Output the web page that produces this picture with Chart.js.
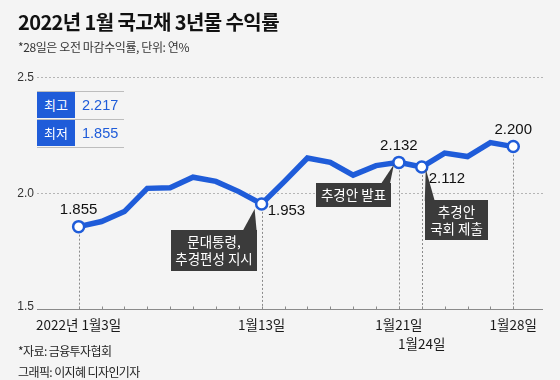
<!DOCTYPE html>
<html><head><meta charset="utf-8">
<script src="https://cdn.jsdelivr.net/npm/chart.js@4"></script>
<style>
html,body{margin:0;padding:0;background:#f4f4f4;}
#wrap{position:relative;width:560px;height:380px;overflow:hidden;background:#f4f4f4;font-family:"Noto Sans CJK KR","Noto Sans",sans-serif;}
canvas{position:absolute;left:0;top:0;}
.t{position:absolute;white-space:nowrap;}
.cell{position:absolute;height:26px;line-height:26px;font-size:13px;}
</style></head><body>
<div id="wrap">
<canvas id="c" width="560" height="380"></canvas>
<div class="t" style="left:18px;top:10px;font-size:20px;line-height:24px;font-weight:bold;color:#111;letter-spacing:-0.6px;">2022년 1월 국고채 3년물 수익률</div>
<div class="t" style="left:18px;top:38px;font-size:12px;line-height:18px;color:#333;letter-spacing:-0.4px;">*28일은 오전 마감수익률, 단위: 연%</div>
<div class="t" style="left:18px;top:342px;font-size:12px;line-height:18px;color:#222;letter-spacing:-0.6px;">*자료: 금융투자협회</div>
<div class="t" style="left:18px;top:363px;font-size:12px;line-height:18px;color:#222;letter-spacing:-0.6px;">그래픽: 이지혜 디자인기자</div>
<div id="tbl"></div>
</div>
<script>
// ---- data ----
const dates = ['1/3','1/4','1/5','1/6','1/7','1/10','1/11','1/12','1/13','1/14','1/17','1/18','1/19','1/20','1/21','1/24','1/25','1/26','1/27','1/28'];
const yields = [1.855,1.877,1.920,2.020,2.023,2.068,2.050,2.006,1.953,2.050,2.151,2.132,2.077,2.118,2.132,2.112,2.172,2.157,2.217,2.200];
const yTicks = [1.5, 2.0, 2.5];
const keyIdx = [0, 8, 14, 15, 19];
const xLabels = [
  {i:0, text:'2022년 1월3일', row:0},
  {i:8, text:'1월13일', row:0},
  {i:14, text:'1월21일', row:0},
  {i:15, text:'1월24일', row:1},
  {i:19, text:'1월28일', row:0}
];
const valueLabels = [
  {i:0, pos:'above'},
  {i:8, pos:'right'},
  {i:14, pos:'above'},
  {i:15, pos:'belowright'},
  {i:19, pos:'above'}
];
const notes = [
  {i:8, lines:['문대통령,','추경편성 지시']},
  {i:14, lines:['추경안 발표']},
  {i:15, lines:['추경안','국회 제출']}
];
const statRows = [['최고', '2.217'], ['최저', '1.855']];

const BLUE = '#1f5cd9';

// table
const tbl = document.getElementById('tbl');
statRows.forEach((r, k) => {
  const top = 92 + k * 28;
  tbl.insertAdjacentHTML('beforeend',
    `<div class="cell" style="left:37px;top:${top}px;width:38px;background:${BLUE};color:#fff;text-align:center;">${r[0]}</div>` +
    `<div class="cell" style="left:82px;top:${top}px;color:${BLUE};font-family:'Liberation Sans',Arial,sans-serif;font-size:14.5px;">${r[1]}</div>`);
});
[91, 119, 147].forEach(y => {
  tbl.insertAdjacentHTML('beforeend', `<div style="position:absolute;left:37px;top:${y}px;width:87px;height:1px;background:#bdbdbd;"></div>`);
});

const deco = {
  id: 'deco',
  beforeDatasetsDraw(chart) {
    const {ctx, scales: {x, y}, chartArea: ca} = chart;
    ctx.save();
    // grid + y labels
    ctx.font = '12px "Liberation Sans", Arial';
    ctx.textAlign = 'right';
    ctx.textBaseline = 'middle';
    yTicks.forEach(v => {
      const py = Math.round(y.getPixelForValue(v)) + 0.5;
      ctx.beginPath();
      ctx.strokeStyle = v === 1.5 ? '#8a8a8a' : '#b5b5b5';
      ctx.lineWidth = 1;
      ctx.setLineDash(v === 1.5 ? [] : [2, 2]);
      ctx.moveTo(ca.left, py); ctx.lineTo(ca.right, py); ctx.stroke();
      ctx.fillStyle = '#333';
      ctx.fillText(v.toFixed(1), ca.left - 3, py - (v === 1.5 ? 3 : 0));
    });
    ctx.setLineDash([]);
    const by = Math.round(y.getPixelForValue(1.5)) + 0.5;
    // tick marks
    ctx.strokeStyle = '#8a8a8a';
    for (let i = 0; i < dates.length; i++) {
      const px = Math.round(x.getPixelForValue(i)) + 0.5;
      ctx.beginPath(); ctx.moveTo(px, by - 3); ctx.lineTo(px, by); ctx.stroke();
    }
    // dashed verticals
    ctx.setLineDash([2, 2]);
    ctx.strokeStyle = '#8a8a8a';
    keyIdx.forEach(i => {
      const px = Math.round(x.getPixelForValue(i)) + 0.5;
      const py = y.getPixelForValue(yields[i]);
      ctx.beginPath(); ctx.moveTo(px, py); ctx.lineTo(px, by); ctx.stroke();
    });
    ctx.setLineDash([]);
    // x labels
    ctx.fillStyle = '#1a1a1a';
    ctx.font = '13.5px "Noto Sans CJK KR"';
    ctx.textAlign = 'center';
    ctx.textBaseline = 'middle';
    xLabels.forEach(l => {
      const px = x.getPixelForValue(l.i);
      ctx.fillText(l.text, px, 325 + l.row * 19);
    });
    ctx.restore();
  },
  afterDatasetsDraw(chart) {
    const {ctx, scales: {x, y}} = chart;
    ctx.save();
    // annotation boxes
    const boxes = [
      {n: notes[0], bx: -91, by: 26, w: 86, h: 41, tip: [-7, 5], base: [-19, -5]},
      {n: notes[1], bx: -83, by: 21, w: 75, h: 24, tip: [-5, 2], base: [-18, -9]},
      {n: notes[2], bx: 3, by: 33, w: 63, h: 40, tip: [4, 2], base: [3, 13]}
    ];
    boxes.forEach(b => {
      const px = x.getPixelForValue(b.n.i), py = y.getPixelForValue(yields[b.n.i]);
      const left = Math.round(px + b.bx), top = Math.round(py + b.by);
      ctx.fillStyle = '#3b3b3b';
      ctx.fillRect(left, top, b.w, b.h);
      ctx.beginPath();
      ctx.moveTo(px + b.tip[0], py + b.tip[1]);
      ctx.lineTo(px + b.base[0], top + 1);
      ctx.lineTo(px + b.base[1], top + 1);
      ctx.closePath(); ctx.fill();
      ctx.fillStyle = '#fff';
      ctx.font = '13.5px "Noto Sans CJK KR"';
      ctx.textAlign = 'center'; ctx.textBaseline = 'middle';
      const lh = 17;
      const cy = top + b.h / 2 - (b.n.lines.length - 1) * lh / 2;
      b.n.lines.forEach((t, k) => ctx.fillText(t, left + b.w / 2, cy + k * lh));
    });
    // value labels
    ctx.fillStyle = '#111';
    ctx.font = '15px "Liberation Sans Narrow","Liberation Sans",Arial';
    ctx.textBaseline = 'middle';
    valueLabels.forEach(v => {
      const px = x.getPixelForValue(v.i), py = y.getPixelForValue(yields[v.i]);
      const txt = yields[v.i].toFixed(3);
      if (v.pos === 'above') { ctx.textAlign = 'center'; ctx.fillText(txt, px, py - 17); }
      else if (v.pos === 'right') { ctx.textAlign = 'left'; ctx.fillText(txt, px + 6, py + 7); }
      else { ctx.textAlign = 'left'; ctx.fillText(txt, px + 7, py + 12); }
    });
    ctx.restore();
  }
};

new Chart(document.getElementById('c'), {
  type: 'line',
  data: {
    datasets: [{
      data: yields.map((v, i) => ({x: i, y: v})),
      borderColor: BLUE,
      borderWidth: 5.5,
      borderJoinStyle: 'miter',
      tension: 0,
      pointRadius: c => keyIdx.includes(c.dataIndex) ? 5.5 : 0,
      pointBackgroundColor: '#fff',
      pointBorderColor: BLUE,
      pointBorderWidth: 2.5,
      clip: false
    }]
  },
  options: {
    responsive: false,
    animation: false,
    events: [],
    layout: {padding: {left: 37, right: 17, top: 77, bottom: 71}},
    plugins: {legend: {display: false}, tooltip: {enabled: false}},
    scales: {
      x: {type: 'linear', display: false, min: -1.82, max: 20.3},
      y: {display: false, min: 1.5, max: 2.5}
    }
  },
  plugins: [deco]
});
</script>
</body></html>
